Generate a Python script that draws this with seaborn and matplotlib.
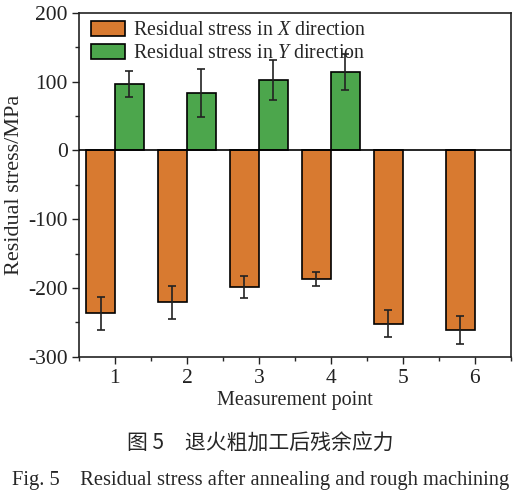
import numpy as np
import pandas as pd
import matplotlib
matplotlib.use("Agg")
import matplotlib.pyplot as plt
import seaborn as sns
from matplotlib.ticker import MultipleLocator

points = ["1", "2", "3", "4", "5", "6"]
x_stress = [-237, -221, -198, -187, -252, -261]
x_err = [24, 24, 16, 10, 20, 20]
y_stress = [97, 84, 103, 114, np.nan, np.nan]
y_err = [19, 35, 29, 26, np.nan, np.nan]
series = ["Residual stress in $\\mathit{X}$ direction", "Residual stress in $\\mathit{Y}$ direction"]
colors = ["#D87A30", "#4CA64C"]

sns.set_theme(style="ticks")
plt.rcParams['font.family'] = ['Liberation Serif', 'Noto Sans CJK SC']
plt.rcParams['mathtext.fontset'] = 'custom'
plt.rcParams['mathtext.it'] = 'Liberation Serif:italic'
plt.rcParams['mathtext.rm'] = 'Liberation Serif'
plt.rcParams['axes.unicode_minus'] = False

df = pd.DataFrame({
    "point": points * 2,
    "stress": x_stress + y_stress,
    "series": [series[0]] * 6 + [series[1]] * 6,
})

fig = plt.figure(figsize=(5.21, 4.97), dpi=100)
ax = fig.add_axes([0.1516, 0.2823, 0.980 - 0.1516, 0.6915])

sns.barplot(data=df, x="point", y="stress", hue="series", palette=colors,
            width=0.8, edgecolor="black", linewidth=1.2, errorbar=None, ax=ax,
            saturation=1)

idx = np.arange(len(points))
ax.errorbar(idx - 0.2, x_stress, yerr=x_err, fmt="none", ecolor="#222222",
            elinewidth=1.2, capsize=3, capthick=1.2, zorder=5)
ax.errorbar(idx + 0.2, y_stress, yerr=y_err, fmt="none", ecolor="#222222",
            elinewidth=1.2, capsize=3, capthick=1.2, zorder=5)

ax.axhline(0, color="black", lw=1.2, zorder=4)
ax.set_xlim(-0.5, 5.5)
ax.set_ylim(-300, 200)
ax.yaxis.set_major_locator(MultipleLocator(100))
ax.yaxis.set_minor_locator(MultipleLocator(50))
ax.xaxis.set_minor_locator(MultipleLocator(0.5))
ax.tick_params(axis="both", which="major", direction="out", length=5, width=1,
               labelsize=15.5, colors="#222222")
ax.tick_params(axis="both", which="minor", direction="out", length=3, width=1)
ax.tick_params(axis="x", pad=4)
ax.tick_params(axis="y", pad=3)
for s in ax.spines.values():
    s.set_linewidth(1.2)
    s.set_color("#222222")

ax.set_xlabel("Measurement point", fontsize=14.5, labelpad=2)
ax.set_ylabel("Residual stress/MPa", fontsize=16, labelpad=3)

leg = ax.legend(loc="upper left", frameon=False, fontsize=14.3, handlelength=1.7,
                handleheight=0.75, handletextpad=0.4, borderaxespad=0.0,
                labelspacing=0.2, bbox_to_anchor=(0.01, 1.0))

fig.text(0.5, 0.108, "图 5　退火粗加工后残余应力", ha="center", va="center",
         fontsize=15, family=["Noto Sans CJK SC", "DejaVu Sans"])
fig.text(0.5, 0.034, "Fig. 5　Residual stress after annealing and rough machining",
         ha="center", va="center", fontsize=14.8,
         family=["Liberation Serif", "Noto Sans CJK SC"])

fig.savefig("out.png", dpi=100)
